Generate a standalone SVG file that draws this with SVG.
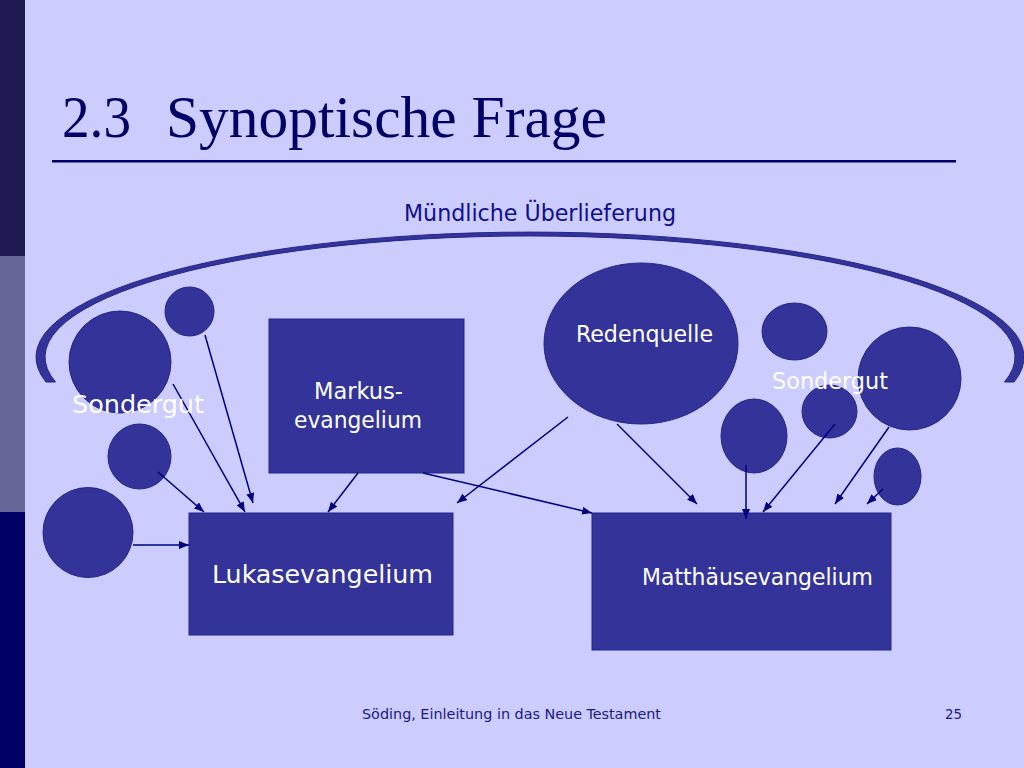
<svg xmlns="http://www.w3.org/2000/svg" width="1024" height="768" viewBox="0 0 1024 768">
<defs>
<style>
.node{fill:#333399;stroke:#25258a;stroke-width:1}
.lbl{font-family:"DejaVu Sans Condensed","DejaVu Sans",sans-serif;fill:#ffffff}
.edge{stroke:#000080;stroke-width:1.5;fill:none;marker-end:url(#ah)}
.navy{fill:#000066}
</style>
<marker id="ah" markerUnits="userSpaceOnUse" markerWidth="11" markerHeight="9" refX="10" refY="4" orient="auto">
<path d="M0,0 L10,4 L0,8 z" fill="#000080"/>
</marker>
</defs>
<rect x="0" y="0" width="1024" height="768" fill="#ccccff"/>
<rect x="0" y="0" width="25" height="256" fill="#201a52"/>
<rect x="0" y="256" width="25" height="256" fill="#666699"/>
<rect x="0" y="512" width="25" height="256" fill="#000066"/>

<g id="title">
<text x="62" y="137" font-family="Liberation Serif,serif" font-size="60" fill="#000066" textLength="69" lengthAdjust="spacingAndGlyphs">2.3</text>
<text x="166" y="137" font-family="Liberation Serif,serif" font-size="60" fill="#000066" textLength="441" lengthAdjust="spacingAndGlyphs">Synoptische Frage</text>
<rect x="52" y="160" width="904" height="2.5" fill="#000066"/>
</g>

<g id="oral-tradition">
<path d="M45.9,382 A494,125 0 1 1 1014.1,382 L1004.5,382 A485,121 0 1 0 55.5,382 Z" class="node"/>
<text x="404" y="221" font-family="DejaVu Sans Condensed,DejaVu Sans,sans-serif" font-size="23" fill="#0f0f8c" textLength="272" lengthAdjust="spacingAndGlyphs">Mündliche Überlieferung</text>
</g>

<g id="sondergut-left">
<circle class="node" cx="120" cy="362" r="51"/>
<circle class="node" cx="189.5" cy="311.5" r="24.5"/>
<ellipse class="node" cx="139.5" cy="456.5" rx="31.5" ry="32.5"/>
<circle class="node" cx="88" cy="532.5" r="45"/>
</g>

<g id="markus">
<rect class="node" x="269" y="319" width="195" height="154"/>
<text class="lbl" x="314" y="399" font-size="23" textLength="89" lengthAdjust="spacingAndGlyphs">Markus-</text>
<text class="lbl" x="294" y="428" font-size="23" textLength="128" lengthAdjust="spacingAndGlyphs">evangelium</text>
</g>

<g id="redenquelle">
<ellipse class="node" cx="641" cy="343.5" rx="97" ry="80.5"/>
<text class="lbl" x="576" y="342" font-size="23" textLength="137" lengthAdjust="spacingAndGlyphs">Redenquelle</text>
</g>

<g id="sondergut-right">
<ellipse class="node" cx="794.5" cy="331.5" rx="32.5" ry="28.5"/>
<circle class="node" cx="909.5" cy="378.5" r="51.5"/>
<ellipse class="node" cx="754" cy="436" rx="33" ry="37"/>
<ellipse class="node" cx="829.5" cy="411.5" rx="27.5" ry="26.5"/>
<ellipse class="node" cx="897.5" cy="476.5" rx="23.5" ry="28.5"/>
</g>

<g id="lukas">
<rect class="node" x="189" y="513" width="264" height="122"/>
<text class="lbl" x="212" y="583" font-size="25" textLength="221" lengthAdjust="spacingAndGlyphs">Lukasevangelium</text>
</g>

<g id="matthaeus">
<rect class="node" x="592" y="513" width="299" height="137"/>
<text class="lbl" x="642" y="585" font-size="23" textLength="231" lengthAdjust="spacingAndGlyphs">Matthäusevangelium</text>
</g>

<g id="connectors">
<line class="edge" x1="173" y1="384" x2="245" y2="512"/>
<line class="edge" x1="205" y1="335" x2="253" y2="503"/>
<line class="edge" x1="158" y1="472" x2="204" y2="512"/>
<line class="edge" x1="133" y1="545" x2="189" y2="545"/>
<line class="edge" x1="358" y1="473" x2="328" y2="512"/>
<line class="edge" x1="423" y1="473" x2="592" y2="513"/>
<line class="edge" x1="568" y1="417" x2="457" y2="503"/>
<line class="edge" x1="617" y1="424" x2="697" y2="504"/>
<line class="edge" x1="746" y1="465" x2="746" y2="519"/>
<line class="edge" x1="835" y1="424" x2="763" y2="512"/>
<line class="edge" x1="889" y1="427" x2="835" y2="504"/>
<line class="edge" x1="883" y1="489" x2="867" y2="504"/>
</g>

<g id="sondergut-labels">
<text class="lbl" x="72" y="413" font-size="24" textLength="132" lengthAdjust="spacingAndGlyphs">Sondergut</text>
<text class="lbl" x="772" y="389" font-size="23" textLength="116" lengthAdjust="spacingAndGlyphs">Sondergut</text>
</g>

<g id="footer">
<text x="362" y="719" font-family="DejaVu Sans Condensed,DejaVu Sans,sans-serif" font-size="14" fill="#1a1a80" textLength="299" lengthAdjust="spacingAndGlyphs">Söding, Einleitung in das Neue Testament</text>
<text x="945" y="719" font-family="DejaVu Sans Condensed,DejaVu Sans,sans-serif" font-size="14" fill="#1a1a80" textLength="17" lengthAdjust="spacingAndGlyphs">25</text>
</g>
</svg>
